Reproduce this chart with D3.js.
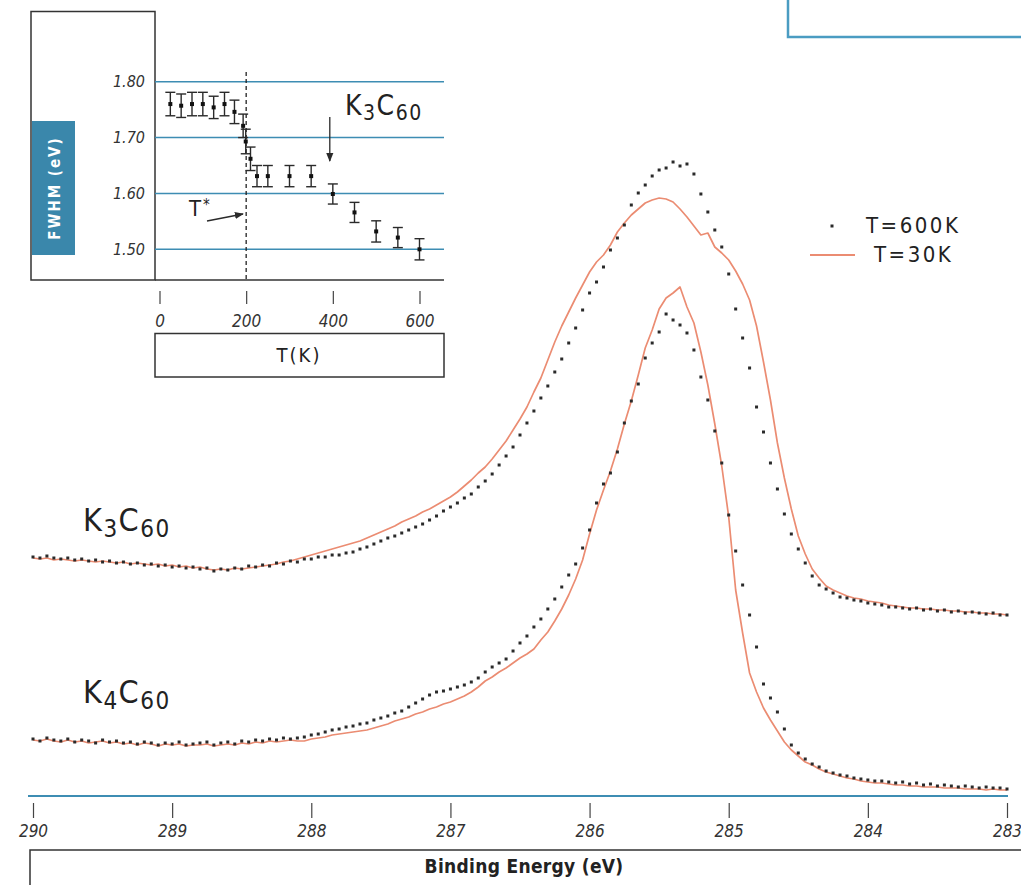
<!DOCTYPE html>
<html>
<head>
<meta charset="utf-8">
<script src="https://cdnjs.cloudflare.com/ajax/libs/d3/7.8.5/d3.min.js"></script>
<style>
  body { margin: 0; background: #fff; }
  svg { display: block; }
</style>
</head>
<body>
<svg id="graph" width="1021" height="885"></svg>
<script>
  var svg = d3.select("#graph");
  var narrow = '"Liberation Sans Narrow", "DejaVu Sans Condensed", "Arial Narrow", sans-serif';
  var blue = "#3d8db3";
  var salmon = "#eb8c72";
  var ink = "#2a2a2a";

  // binding energy grid (eV), spectra sampled every 0.05 eV from 290 to 283
  var energy = d3.range(0, 141).map(function(i){ return +(290 - i * 0.05).toFixed(2); });
  var energyTicks = [290, 289, 288, 287, 286, 285, 284, 283];

  // C 1s intensity (arb. units)
  var k3Hot = [47.8,47.6,48.0,47.6,47.4,47.6,47.2,47.4,47.0,47.2,46.8,47.0,46.6,46.8,46.4,46.6,46.2,46.4,46.0,46.2,
               45.8,46.0,45.6,45.8,45.4,45.6,45.0,45.4,45.2,45.6,45.4,46.0,45.8,46.2,46.0,46.6,46.4,47.0,46.8,47.4,
               47.4,47.8,47.8,48.2,48.2,48.6,48.8,49.4,49.8,50.4,51.0,51.6,52.0,52.6,53.2,53.8,54.4,55.2,56.0,57.0,
               57.8,58.6,59.6,60.4,61.8,63.0,64.4,66.2,68.0,69.8,72.2,74.6,77.0,79.6,82.0,84.8,87.4,90.6,93.6,97.2,
               100.6,102.8,105.8,109.2,111.6,114.2,118.2,120.6,122.2,124.0,125.2,125.6,126.8,126.0,126.4,124.4,120.4,116.8,113.2,109.8,
               104.4,97.4,91.6,85.6,77.8,72.8,66.6,61.4,56.4,52.4,49.4,46.6,44.0,42.2,41.4,40.6,39.8,39.6,39.2,39.0,
               38.6,38.4,38.2,37.8,37.8,37.6,37.4,37.6,37.2,37.4,37.0,37.2,36.8,37.0,36.6,36.8,36.6,36.4,36.6,36.2,36.2];
  var k3Cold = [47.6,47.4,47.6,47.2,47.4,47.2,47.0,47.2,47.0,46.8,47.0,46.8,46.6,46.8,46.4,46.6,46.4,46.2,46.4,46.0,
                46.2,45.8,46.0,45.6,45.8,45.4,45.2,45.4,45.2,45.6,45.4,45.6,45.8,46.0,46.2,46.4,46.8,47.0,47.4,47.8,
                48.2,48.6,49.0,49.4,49.8,50.2,50.6,51.0,51.6,52.2,52.8,53.4,54.0,54.8,55.4,56.0,56.8,57.4,58.2,59.0,
                59.8,60.8,62.0,63.2,64.6,65.8,67.4,69.2,71.0,73.2,75.4,77.8,80.8,83.6,87.2,90.8,94.0,96.8,99.6,102.2,
                104.8,106.8,108.2,110.2,112.8,114.6,116.2,117.4,118.6,119.2,119.6,119.4,118.8,117.4,115.8,114.0,112.2,112.6,109.8,108.6,
                107.2,105.0,102.4,99.2,94.0,86.8,79.2,70.6,63.6,57.4,52.0,48.4,45.4,43.6,42.0,41.2,40.6,40.0,39.6,39.4,
                39.0,38.8,38.6,38.2,38.0,37.8,37.6,37.6,37.4,37.4,37.2,37.2,37.0,37.0,36.8,36.8,36.6,36.6,36.4,36.4,36.2];
  var k4Hot = [11.4,11.0,11.6,11.2,11.0,11.4,10.8,11.2,11.0,10.6,11.2,10.8,11.0,10.6,10.8,10.4,10.8,10.6,10.2,10.6,
               10.4,10.8,10.2,10.4,10.6,10.8,10.2,10.6,10.8,10.4,11.0,10.8,11.2,11.0,11.4,11.2,11.6,11.4,11.6,11.8,
               12.2,12.4,12.8,13.2,13.4,13.8,14.0,14.4,14.6,15.2,15.6,16.0,16.6,17.0,17.8,18.6,19.4,20.2,20.8,21.0,
               21.4,21.8,22.2,22.8,23.6,24.8,25.8,26.6,27.4,29.0,30.6,32.0,33.8,35.4,37.4,39.4,41.8,44.2,46.4,49.6,
               53.2,58.6,62.4,64.6,68.8,74.6,79.0,82.4,87.6,90.6,92.8,96.4,95.2,94.2,92.6,89.2,83.8,79.2,73.0,66.6,
               56.2,49.0,42.2,36.2,29.8,22.4,19.6,16.8,13.4,10.2,8.6,7.4,6.4,5.8,5.0,4.6,4.2,4.0,3.6,3.4,
               3.2,3.0,3.0,2.8,2.6,2.8,2.4,2.6,2.2,2.4,2.0,2.2,2.0,1.8,2.0,1.8,1.6,1.8,1.6,1.6,1.4];
  var k4Cold = [11.2,11.0,11.4,11.0,10.8,11.2,10.8,11.0,10.6,10.8,11.0,10.6,10.8,10.4,10.6,10.2,10.6,10.4,10.0,10.4,
                10.2,10.4,10.0,10.2,10.2,10.4,10.0,10.2,10.4,10.2,10.6,10.4,10.8,10.6,11.0,10.8,11.0,11.2,11.0,11.0,
                11.4,11.6,11.8,12.2,12.4,12.6,12.8,13.0,13.2,13.6,14.0,14.4,15.0,15.4,15.8,16.4,16.8,17.4,17.8,18.4,
                18.8,19.4,20.0,20.8,21.8,23.0,23.8,24.8,25.6,26.6,27.6,28.4,29.4,31.2,32.8,35.0,37.4,40.2,43.4,47.2,
                52.4,57.2,61.2,65.0,69.4,74.4,79.0,84.2,89.6,93.2,97.4,99.6,100.6,101.8,97.8,94.6,88.8,82.2,74.4,66.0,
                55.8,41.2,32.6,24.6,20.8,17.6,15.2,13.0,10.8,9.2,8.0,6.8,6.2,5.4,4.8,4.4,4.0,3.6,3.4,3.0,
                2.8,2.6,2.6,2.4,2.2,2.2,2.0,2.0,1.8,1.8,1.8,1.6,1.6,1.6,1.4,1.4,1.4,1.2,1.4,1.2,1.2];

  // inset: FWHM of K3C60 vs temperature
  var tempK = [25, 50, 75, 100, 125, 150, 173, 193, 199, 210, 225, 250, 300, 350, 400, 450, 500, 550, 600];
  var fwhm = [1.760, 1.757, 1.760, 1.760, 1.754, 1.760, 1.746, 1.721, 1.693, 1.662, 1.631, 1.631, 1.631, 1.631,
              1.599, 1.566, 1.532, 1.521, 1.500];
  var fwhmErr = [0.021, 0.021, 0.021, 0.021, 0.020, 0.021, 0.021, 0.021, 0.022, 0.021, 0.019, 0.019, 0.019, 0.019,
                 0.018, 0.018, 0.019, 0.018, 0.019];
  var tempTicks = [0, 200, 400, 600];
  var fwhmTicks = [1.50, 1.60, 1.70, 1.80];

  var spectra = energy.map(function(e, i){
    return {e: e, k3Hot: k3Hot[i], k3Cold: k3Cold[i], k4Hot: k4Hot[i], k4Cold: k4Cold[i]};
  });

  // arrow head marker
  svg.append("defs").append("marker")
    .attr("id", "arrow")
    .attr("viewBox", "0 0 10 10")
    .attr("refX", 9).attr("refY", 5)
    .attr("markerWidth", 9).attr("markerHeight", 9)
    .attr("markerUnits", "userSpaceOnUse")
    .attr("orient", "auto")
    .append("path").attr("d", "M0,1 L10,5 L0,9 Z").attr("fill", ink);

  // ---------- main spectrum ----------
  var x = d3.scaleLinear().domain([290, 283]).range([33, 1007]);
  var y = d3.scaleLinear().domain([0, 140]).range([796, 96]);

  // top right box (cut off)
  svg.append("rect")
    .attr("x", 788).attr("y", -10)
    .attr("width", 300).attr("height", 47)
    .attr("fill", "none").attr("stroke", "#4a9cc2").attr("stroke-width", 2.5);

  // baseline
  svg.append("line")
    .attr("x1", 28).attr("x2", 1008)
    .attr("y1", y(0)).attr("y2", y(0))
    .attr("stroke", blue).attr("stroke-width", 2);

  var xAxis = svg.append("g")
    .attr("transform", "translate(0," + (y(0) + 7) + ")")
    .call(d3.axisBottom(x).tickValues(energyTicks).tickSize(15).tickPadding(7).tickFormat(d3.format("d")));
  xAxis.select(".domain").remove();
  xAxis.selectAll(".tick line").attr("stroke", "#444").attr("stroke-width", 1.2);
  xAxis.selectAll(".tick text")
    .attr("fill", "#333")
    .style("font-family", narrow)
    .style("font-style", "italic")
    .style("font-size", "17px");

  // axis title box
  svg.append("rect")
    .attr("x", 30).attr("y", 850)
    .attr("width", 1010).attr("height", 60)
    .attr("fill", "none").attr("stroke", "#333").attr("stroke-width", 1.5);
  svg.append("text")
    .attr("x", 524).attr("y", 873)
    .attr("text-anchor", "middle")
    .attr("fill", "#222")
    .style("font-family", narrow)
    .style("font-weight", "600")
    .style("font-size", "19px")
    .style("letter-spacing", "0.3px")
    .text("Binding Energy (eV)");

  // 30K lines
  var line = function(key){
    return d3.line().x(function(d){ return x(d.e); }).y(function(d){ return y(d[key]); });
  };
  ["k3Cold", "k4Cold"].forEach(function(key){
    svg.append("path")
      .datum(spectra)
      .attr("d", line(key))
      .attr("fill", "none")
      .attr("stroke", salmon)
      .attr("stroke-width", 1.7)
      .attr("stroke-linejoin", "round");
  });

  // 600K dots
  ["k3Hot", "k4Hot"].forEach(function(key){
    svg.append("g").selectAll("rect").data(spectra).enter().append("rect")
      .attr("x", function(d){ return x(d.e) - 1.5; })
      .attr("y", function(d){ return y(d[key]) - 1.5; })
      .attr("width", 3).attr("height", 3)
      .attr("fill", ink);
  });

  // compound labels
  function compound(g, px, py, size, n){
    var t = g.append("text")
      .attr("x", px).attr("y", py)
      .attr("fill", "#222")
      .style("font-family", narrow)
      .style("font-size", size + "px")
      .style("letter-spacing", "1.5px");
    var sub = Math.round(size * 0.75);
    t.append("tspan").text("K");
    t.append("tspan").attr("dy", size * 0.18).style("font-size", sub + "px").text(n);
    t.append("tspan").attr("dy", -size * 0.18).text("C");
    t.append("tspan").attr("dy", size * 0.18).style("font-size", sub + "px").text("60");
  }
  compound(svg, 83, 531, 32, "3");
  compound(svg, 83, 703, 32, "4");

  // legend
  svg.append("rect")
    .attr("x", 830.5).attr("y", 224.5).attr("width", 3).attr("height", 3)
    .attr("fill", ink);
  svg.append("line")
    .attr("x1", 810).attr("x2", 855).attr("y1", 255).attr("y2", 255)
    .attr("stroke", salmon).attr("stroke-width", 2);
  svg.selectAll(".legText").data(["T=600K", "T=30K"]).enter().append("text")
    .attr("class", "legText")
    .attr("x", function(d, i){ return i == 0 ? 866 : 874; })
    .attr("y", function(d, i){ return i == 0 ? 233 : 262; })
    .attr("fill", "#222")
    .style("font-family", narrow)
    .style("font-size", "22px")
    .style("letter-spacing", "2.5px")
    .text(function(d){ return d; });

  // ---------- inset ----------
  var xi = d3.scaleLinear().domain([0, 600]).range([159.5, 419.5]);
  var yi = d3.scaleLinear().domain([1.50, 1.80]).range([249.3, 81.7]);

  svg.append("rect")
    .attr("x", 31).attr("y", 11.5)
    .attr("width", 124).attr("height", 268.5)
    .attr("fill", "#fff").attr("stroke", "#333").attr("stroke-width", 1.5);
  svg.append("line")
    .attr("x1", 155).attr("x2", 444).attr("y1", 280).attr("y2", 280)
    .attr("stroke", "#333").attr("stroke-width", 1.5);

  svg.append("rect")
    .attr("x", 32).attr("y", 121)
    .attr("width", 43).attr("height", 134)
    .attr("fill", "#3a87ab");
  svg.append("text")
    .attr("transform", "translate(55,188) rotate(-90)")
    .attr("text-anchor", "middle")
    .attr("dominant-baseline", "middle")
    .attr("fill", "#fff")
    .style("font-family", narrow)
    .style("font-weight", "bold")
    .style("font-size", "15px")
    .style("letter-spacing", "2px")
    .text("FWHM (eV)");

  // gridlines
  svg.selectAll(".grid").data(fwhmTicks).enter().append("line")
    .attr("class", "grid")
    .attr("x1", 155).attr("x2", 444)
    .attr("y1", function(d){ return yi(d); })
    .attr("y2", function(d){ return yi(d); })
    .attr("stroke", blue).attr("stroke-width", 1.6);

  var yAxisI = svg.append("g")
    .attr("transform", "translate(155,0)")
    .call(d3.axisLeft(yi).tickValues(fwhmTicks).tickSize(0).tickPadding(10).tickFormat(d3.format(".2f")));
  yAxisI.select(".domain").remove();
  yAxisI.selectAll(".tick text")
    .attr("fill", "#333")
    .style("font-family", narrow)
    .style("font-style", "italic")
    .style("font-size", "16px");

  var xAxisI = svg.append("g")
    .attr("transform", "translate(0,291)")
    .call(d3.axisBottom(xi).tickValues(tempTicks).tickSize(13).tickPadding(11));
  xAxisI.select(".domain").remove();
  xAxisI.selectAll(".tick line").attr("stroke", "#444").attr("stroke-width", 1.2);
  xAxisI.selectAll(".tick text")
    .attr("fill", "#333")
    .style("font-family", narrow)
    .style("font-style", "italic")
    .style("font-size", "17px");

  svg.append("rect")
    .attr("x", 155).attr("y", 333.5)
    .attr("width", 289).attr("height", 43.5)
    .attr("fill", "none").attr("stroke", "#333").attr("stroke-width", 1.5);
  svg.append("text")
    .attr("x", 299).attr("y", 362)
    .attr("text-anchor", "middle")
    .attr("fill", "#222")
    .style("font-family", narrow)
    .style("font-size", "20px")
    .style("letter-spacing", "2px")
    .text("T(K)");

  // T* dashed line
  svg.append("line")
    .attr("x1", xi(200)).attr("x2", xi(200))
    .attr("y1", 72).attr("y2", 280)
    .attr("stroke", "#222").attr("stroke-width", 1.3)
    .attr("stroke-dasharray", "4,3");

  // error bars
  var pts = tempK.map(function(t, i){ return {t: t, v: fwhm[i], e: fwhmErr[i]}; });
  var bars = svg.selectAll(".ebar").data(pts).enter().append("g").attr("class", "ebar");
  bars.append("line")
    .attr("x1", function(d){ return xi(d.t); }).attr("x2", function(d){ return xi(d.t); })
    .attr("y1", function(d){ return yi(d.v - d.e); }).attr("y2", function(d){ return yi(d.v + d.e); })
    .attr("stroke", ink).attr("stroke-width", 1.4);
  [-1, 1].forEach(function(s){
    bars.append("line")
      .attr("x1", function(d){ return xi(d.t) - 5; }).attr("x2", function(d){ return xi(d.t) + 5; })
      .attr("y1", function(d){ return yi(d.v + s * d.e); }).attr("y2", function(d){ return yi(d.v + s * d.e); })
      .attr("stroke", ink).attr("stroke-width", 1.4);
  });
  bars.append("rect")
    .attr("x", function(d){ return xi(d.t) - 2; })
    .attr("y", function(d){ return yi(d.v) - 2; })
    .attr("width", 4).attr("height", 4)
    .attr("fill", "#111");

  // annotations
  compound(svg, 345, 115, 28, "3");
  svg.append("line")
    .attr("x1", xi(393)).attr("x2", xi(393))
    .attr("y1", 117).attr("y2", 161)
    .attr("stroke", ink).attr("stroke-width", 1.3)
    .attr("marker-end", "url(#arrow)");

  var tStar = svg.append("text")
    .attr("x", 189).attr("y", 216)
    .attr("fill", "#222")
    .style("font-family", narrow)
    .style("font-size", "22px");
  tStar.append("tspan").text("T");
  tStar.append("tspan").attr("dx", 2).attr("dy", -6).style("font-size", "15px").text("*");
  svg.append("line")
    .attr("x1", 207).attr("y1", 221)
    .attr("x2", 243).attr("y2", 214)
    .attr("stroke", ink).attr("stroke-width", 1.3)
    .attr("marker-end", "url(#arrow)");
</script>
</body>
</html>
